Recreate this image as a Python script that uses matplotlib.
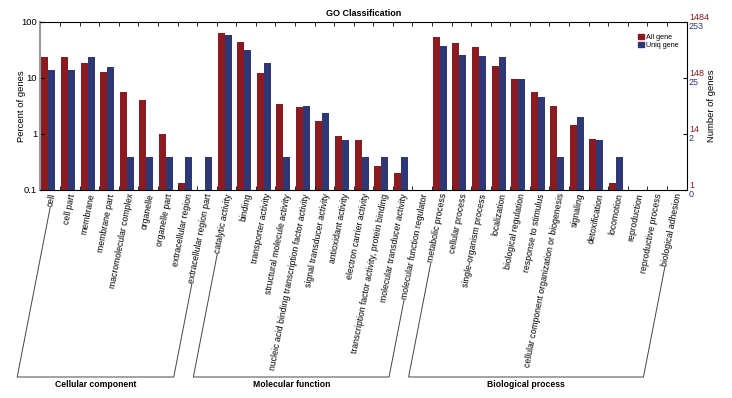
import numpy as np
import matplotlib
matplotlib.use("Agg")
import matplotlib.pyplot as plt
from matplotlib.lines import Line2D
from matplotlib.patches import Patch
from matplotlib.transforms import blended_transform_factory

plt.rcParams['font.family'] = ['Liberation Sans Narrow', 'Liberation Sans', 'DejaVu Sans']

cellular_terms = ['cell', 'cell part', 'membrane', 'membrane part', 'macromolecular complex',
                  'organelle', 'organelle part', 'extracellular region', 'extracellular region part']
molecular_terms = ['catalytic activity', 'binding', 'transporter activity', 'structural molecule activity',
                   'nucleic acid binding transcription factor activity', 'signal transducer activity',
                   'antioxidant activity', 'electron carrier activity',
                   'transcription factor activity, protein binding', 'molecular transducer activity',
                   'molecular function regulator']
biological_terms = ['metabolic process', 'cellular process', 'single-organism process', 'localization',
                    'biological regulation', 'response to stimulus',
                    'cellular component organization or biogenesis', 'signaling', 'detoxification',
                    'locomotion', 'reproduction', 'reproductive process', 'biological adhesion']
group_names = ['Cellular component', 'Molecular function', 'Biological process']

# percent of genes (0 = no bar)
all_cellular = [24, 24, 18.7, 12.8, 5.6, 4.05, 1.0, 0.135, 0]
uniq_cellular = [14, 14, 23.4, 15.5, 0.395, 0.395, 0.395, 0.395, 0.395]
all_molecular = [64, 44, 12.4, 3.5, 3.0, 1.73, 0.92, 0.78, 0.27, 0.2, 0]
uniq_molecular = [59, 31.6, 18.3, 0.395, 3.1, 2.33, 0.78, 0.395, 0.395, 0.395, 0]
all_biological = [55, 43, 35.4, 16.3, 9.5, 5.6, 3.16, 1.47, 0.80, 0.135, 0, 0, 0]
uniq_biological = [38, 25.4, 24.7, 24, 9.5, 4.6, 0.395, 1.99, 0.78, 0.395, 0, 0, 0]

all_total, uniq_total = 1484, 253
right_all_labels = ['1', '14', '148', '1484']
right_uniq_labels = ['0', '2', '25', '253']

red, blue = '#8a1c21', '#2e3876'
angle = 79

terms = cellular_terms + molecular_terms + biological_terms
all_pct = np.array(all_cellular + all_molecular + all_biological, dtype=float)
uniq_pct = np.array(uniq_cellular + uniq_molecular + uniq_biological, dtype=float)
group_sizes = [len(cellular_terms), len(molecular_terms), len(biological_terms)]
x = np.arange(len(terms))
w = 0.357
label_size = 6.2

fig = plt.figure(figsize=(7.32, 3.98), dpi=100)
ax = fig.add_axes([40 / 732, 1 - 190 / 398, 647 / 732, 168 / 398])
ax.set_yscale('log')
ax.bar(x - w / 2, np.where(all_pct > 0, all_pct, np.nan), w, color=red, label='All gene')
ax.bar(x + w / 2, np.where(uniq_pct > 0, uniq_pct, np.nan), w, color=blue, label='Uniq gene')
ax.set_ylim(0.1, 100)
ax.set_xlim(-0.43, len(terms) - 0.37)

decades = [0.1, 1, 10, 100]
ax.set_yticks(decades, labels=['0.1', '1', '10', '100'], fontsize=6.8)
ax.yaxis.set_minor_locator(matplotlib.ticker.NullLocator())
ax.set_xticks(x, labels=terms, rotation=angle, ha='right', rotation_mode='anchor', fontsize=label_size)
ax.tick_params(axis='x', length=0, pad=2)
ax.set_xticks(x[:-1] + 0.6, minor=True)
ax.tick_params(axis='x', which='minor', direction='in', length=3, top=True, bottom=True)
ax.tick_params(axis='y', direction='in', length=3, right=True, pad=2)
ax.spines['left'].set_color('#9a9a9a')
ax.spines['left'].set_linewidth(1.5)
for s in ['top', 'right', 'bottom']:
    ax.spines[s].set_linewidth(0.8)
ax.set_ylabel('Percent of genes', fontsize=6.8)
ax.yaxis.set_label_coords(-14 / 647, 0.5)
ax.set_title('GO Classification', fontsize=6.5, fontweight='bold', pad=4)

trans = blended_transform_factory(ax.transAxes, ax.transData)
for d, la, lu in zip(decades, right_all_labels, right_uniq_labels):
    ax.text(1.003, d, la, color=red, fontsize=6.5, ha='left', va='bottom', transform=trans)
    ax.text(1.003, d, lu, color=blue, fontsize=6.5, ha='left', va='top', transform=trans)
fig.text(712 / 732, 1 - 106 / 398, 'Number of genes', rotation=90, fontsize=6.8, ha='center', va='center')

ax.legend(handles=[Patch(color=red), Patch(color=blue)], labels=['All gene', 'Uniq gene'],
          loc='upper right', fontsize=5.2, frameon=False, handlelength=0.8, handleheight=0.8,
          handletextpad=0.3, labelspacing=0.1, borderaxespad=0.3, bbox_to_anchor=(0.995, 0.96))

# group brackets continuing the slanted labels
fig.canvas.draw()
renderer = fig.canvas.get_renderer()
labels = ax.get_xticklabels()
th = np.deg2rad(angle)
h = label_size * fig.dpi / 72
y_bottom = fig.bbox.height - 377
to_fig = fig.transFigure.inverted()


def label_start(lbl):
    bb = lbl.get_window_extent(renderer)
    return bb.x0 + h * np.sin(th) / 2, bb.y0 + h * np.cos(th) / 2 - 1


start = 0
for name, n in zip(group_names, group_sizes):
    p1 = label_start(labels[start])
    p2 = label_start(labels[start + n - 1])
    c1 = (p1[0] - (p1[1] - y_bottom) / np.tan(th), y_bottom)
    c2 = (p2[0] - (p2[1] - y_bottom) / np.tan(th), y_bottom)
    pts = to_fig.transform([p1, c1, c2, p2])
    fig.add_artist(Line2D(pts[:, 0], pts[:, 1], color='#444444', lw=0.7, transform=fig.transFigure))
    mid = to_fig.transform([((c1[0] + c2[0]) / 2, y_bottom - 3)])[0]
    fig.text(mid[0], mid[1], name, fontsize=6.2, fontweight='bold', ha='center', va='top')
    start += n

fig.savefig('out.png', dpi=100)
